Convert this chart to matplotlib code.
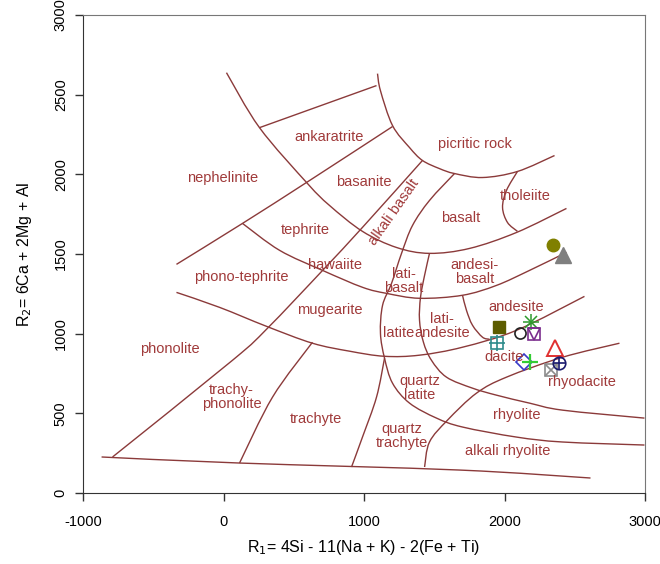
import matplotlib
matplotlib.use("Agg")
import matplotlib.pyplot as plt
from matplotlib.path import Path
from matplotlib.patches import PathPatch

plt.rcParams['font.family'] = ['Liberation Sans', 'DejaVu Sans']
plt.rcParams['axes.unicode_minus'] = False

LINE_COL = '#8B3A3A'
TEXT_COL = '#A03A3A'

# field boundaries (R1, R2)
bottom_line = [(-868, 226), (114, 188), (1680, 144), (2612, 94)]
phonolite_line = [(-790, 226), (64, 833), (313, 1034), (705, 1397), (989, 1667), (1416, 2087)]
nephelinite_line = [(-335, 1435), (135, 1692), (612, 1961), (1203, 2300)]
ankaratrite_top = [(256, 2293), (1089, 2557)]
arc_outer = [(21, 2638), (256, 2293), (598, 1942), (754, 1805), (989, 1642), (1231, 1541),
             (1466, 1504), (1751, 1535), (2085, 1635), (2441, 1786)]
arc_picrite = [(1096, 2632), (1117, 2525), (1203, 2306), (1324, 2168), (1416, 2087), (1537, 2036),
               (1644, 2005), (1843, 1980), (2092, 2018), (2356, 2118)]
tholeiite_line = [(2092, 2018), (2014, 1899), (1986, 1792), (2021, 1698), (2092, 1642)]
basalt_line = [(1644, 2005), (1466, 1836), (1345, 1679), (1267, 1504), (1196, 1316), (1132, 1178),
               (1117, 1003), (1146, 846), (1203, 689), (1324, 564), (1516, 470), (1701, 414),
               (2085, 351), (2413, 320), (2996, 301)]
latiandesite_line = [(1466, 1504), (1431, 1366), (1402, 1228), (1395, 1084), (1423, 946), (1480, 833),
                     (1587, 727), (1772, 658), (1943, 614), (2178, 564), (2413, 520), (2996, 470)]
tephrite_line = [(135, 1692), (399, 1523), (705, 1397), (989, 1291), (1160, 1253), (1395, 1222),
                 (1701, 1241), (1943, 1303), (2178, 1397), (2441, 1510)]
mugearite_line = [(-335, 1259), (-28, 1165), (306, 1046), (633, 940), (897, 890), (1146, 858),
                  (1395, 865), (1701, 915), (2085, 1021), (2569, 1234)]
trachyte_left = [(114, 188), (349, 602), (633, 946)]
trachyte_right = [(911, 163), (989, 351), (1089, 602), (1146, 846)]
rhyolite_line = [(1431, 163), (1466, 320), (1594, 457), (1801, 627), (2014, 727), (2413, 852), (2818, 940)]
andesite_line = [(1701, 1241), (1729, 1147), (1772, 1053), (1843, 978), (1893, 965)]

boundaries = [bottom_line, phonolite_line, nephelinite_line, ankaratrite_top, arc_outer, arc_picrite,
              tholeiite_line, basalt_line, latiandesite_line, tephrite_line, mugearite_line,
              trachyte_left, trachyte_right, rhyolite_line, andesite_line]

# field names and where they sit
field_names = ["ankaratrite", "picritic rock", "nephelinite", "basanite", "alkali basalt", "basalt",
               "tholeiite", "tephrite", "hawaiite", "lati-\nbasalt", "andesi-\nbasalt", "phono-tephrite",
               "mugearite", "andesite", "latite", "lati-\nandesite", "phonolite", "dacite",
               "quartz\nlatite", "rhyodacite", "trachy-\nphonolite", "trachyte", "rhyolite",
               "quartz\ntrachyte", "alkali rhyolite"]
field_x = [754, 1786, -7, 996, 1210, 1687, 2149, 584, 790, 1281, 1786, 128, 754, 2085, 1245, 1555,
           -384, 2000, 1395, 2548, 57, 655, 2085, 1267, 2021]
field_y = [2237, 2193, 1980, 1949, 1761, 1729, 1867, 1648, 1429, 1328, 1385, 1353, 1147, 1165, 1003,
           1046, 902, 852, 658, 696, 602, 464, 489, 357, 263]

# samples
samp_r1 = [2342, 2413, 1964, 1950, 2192, 2107, 2213, 2356, 2142, 2178, 2334, 2391]
samp_r2 = [1554, 1491, 1040, 940, 1072, 1003, 996, 909, 821, 821, 771, 815]
samp_col = ['#808000', '#7F7F7F', '#5C5C00', '#2E8B8B', '#2E9B2E', '#222222', '#7B2D8E', '#E03030',
            '#3838C8', '#33CC33', '#8C8C8C', '#1A1A6E']
samp_mark = ['circle', 'triangle', 'square', 'squareplus', 'star', 'opencircle', 'squarev', 'opentriangle',
             'diamond', 'plus', 'squarex', 'circleplus']


def smooth_path(pts):
    # catmull-rom through the points, written as cubic beziers
    if len(pts) < 3:
        return Path(pts, [Path.MOVETO, Path.LINETO])
    verts = [pts[0]]
    codes = [Path.MOVETO]
    for i in range(len(pts) - 1):
        p0 = pts[i - 1] if i > 0 else pts[i]
        p1 = pts[i]
        p2 = pts[i + 1]
        p3 = pts[i + 2] if i + 2 < len(pts) else pts[i + 1]
        c1 = (p1[0] + (p2[0] - p0[0]) / 6.0, p1[1] + (p2[1] - p0[1]) / 6.0)
        c2 = (p2[0] - (p3[0] - p1[0]) / 6.0, p2[1] - (p3[1] - p1[1]) / 6.0)
        verts += [c1, c2, p2]
        codes += [Path.CURVE4, Path.CURVE4, Path.CURVE4]
    return Path(verts, codes)


fig = plt.figure(figsize=(6.6, 5.64), dpi=100)
ax = fig.add_axes([0.1258, 0.1259, 0.8515, 0.8475])

for line in boundaries:
    ax.add_patch(PathPatch(smooth_path(line), fill=False, edgecolor=LINE_COL, lw=1.0))

for name, x, y in zip(field_names, field_x, field_y):
    rot = 55 if name == "alkali basalt" else 0
    ax.text(x, y, name, color=TEXT_COL, fontsize=10.5, ha='center', va='center', rotation=rot,
            linespacing=1.0)

for x, y, c, m in zip(samp_r1, samp_r2, samp_col, samp_mark):
    if m == 'circle':
        ax.plot(x, y, 'o', color=c, ms=9)
    elif m == 'triangle':
        ax.plot(x, y, '^', color=c, ms=11)
    elif m == 'square':
        ax.plot(x, y, 's', color=c, ms=9)
    elif m == 'squareplus':
        ax.plot(x, y, 's', mfc='none', mec=c, ms=9, mew=1.2)
        ax.plot(x, y, '+', color=c, ms=12, mew=1.2)
    elif m == 'star':
        ax.plot(x, y, '+', color=c, ms=11, mew=1.1)
        ax.plot(x, y, 'x', color=c, ms=8, mew=1.1)
    elif m == 'opencircle':
        ax.plot(x, y, 'o', mfc='none', mec=c, ms=8, mew=1.2)
    elif m == 'squarev':
        ax.plot(x, y, 's', mfc='none', mec=c, ms=9, mew=1.2)
        ax.plot(x, y, 'v', mfc='none', mec=c, ms=9, mew=1.2)
    elif m == 'opentriangle':
        ax.plot(x, y, '^', mfc='none', mec=c, ms=11, mew=1.4)
    elif m == 'diamond':
        ax.plot(x, y, 'D', mfc='none', mec=c, ms=8, mew=1.2)
    elif m == 'plus':
        ax.plot(x, y, '+', color=c, ms=11, mew=1.6)
    elif m == 'squarex':
        ax.plot(x, y, 's', mfc='none', mec=c, ms=9, mew=1.2)
        ax.plot(x, y, 'x', color=c, ms=9, mew=1.2)
    elif m == 'circleplus':
        ax.plot(x, y, 'o', mfc='none', mec=c, ms=9, mew=1.2)
        ax.plot(x, y, '+', color=c, ms=9, mew=1.2)

ax.set_xlim(-1000, 3000)
ax.set_ylim(0, 3000)
ax.set_xticks([-1000, 0, 1000, 2000, 3000])
ax.set_yticks([0, 500, 1000, 1500, 2000, 2500, 3000])
ax.tick_params(direction='out', length=6, width=1, labelsize=10.5, color='#333333')
ax.tick_params(axis='x', pad=10)
ax.tick_params(axis='y', pad=5)
for lab in ax.get_yticklabels():
    lab.set_rotation(90)
    lab.set_va('center')
for side in ['left', 'bottom']:
    ax.spines[side].set_color('#333333')
for side in ['top', 'right']:
    ax.spines[side].set_color('#777777')

ax.set_xlabel("R$_1$= 4Si - 11(Na + K) - 2(Fe + Ti)", fontsize=11.5, labelpad=6)
ax.set_ylabel("R$_2$= 6Ca + 2Mg + Al", fontsize=11.5, labelpad=14)

fig.savefig("out.png", dpi=100)
